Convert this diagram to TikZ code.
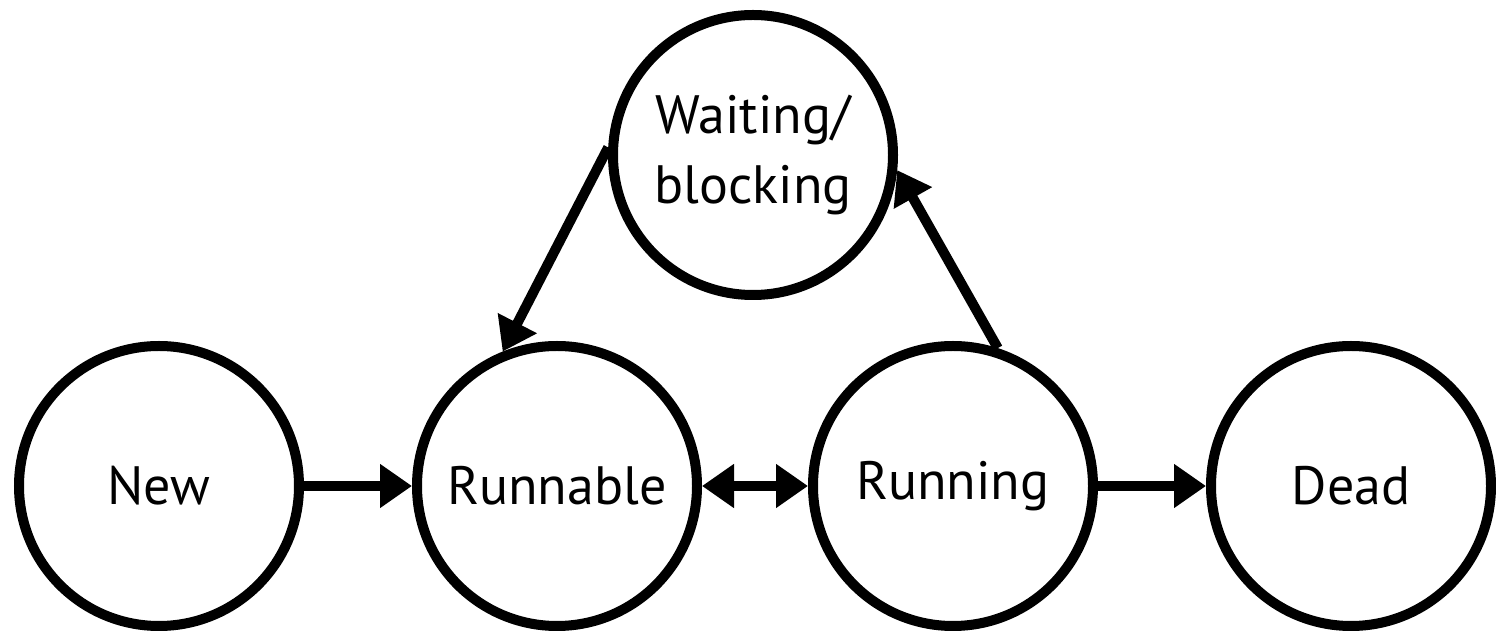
\documentclass[tikz,border=0pt]{standalone}
\usepackage{fontspec}
\setmainfont{PT Sans}
\usetikzlibrary{arrows.meta}
\begin{document}
\begin{tikzpicture}[x=0.5pt,y=-0.5pt,
  state/.style={circle, draw=black, line width=5pt, minimum size=140pt,
    inner sep=0pt, align=center, font=\fontsize{27}{35}\selectfont},
  tip/.style={Triangle[length=16pt,width=21pt]},
  trans/.style={line width=5pt, -{Triangle[length=16pt,width=21pt]}},
  both/.style={line width=5pt, {Triangle[length=16pt,width=21pt]}-{Triangle[length=16pt,width=21pt]}}]
  \useasboundingbox (0,0) rectangle (1496,635);
  % process states
  \node[state] (new)      at (159,486)  {New};
  \node[state] (runnable) at (557,486)  {Runnable};
  \node[state] (running)  at (953,486)  {Running};
  \node[state] (dead)     at (1351,486) {Dead};
  \node[state] (wait)     at (753,155)  {Waiting/\\blocking};
  % transitions
  \draw[trans] (new) -- (runnable);
  \draw[both]  (runnable) -- (running);
  \draw[trans] (running) -- (dead);
  \draw[trans] (wait.177) -- (runnable.112);
  \draw[trans] (running.72) -- (wait.354);
\end{tikzpicture}
\end{document}
